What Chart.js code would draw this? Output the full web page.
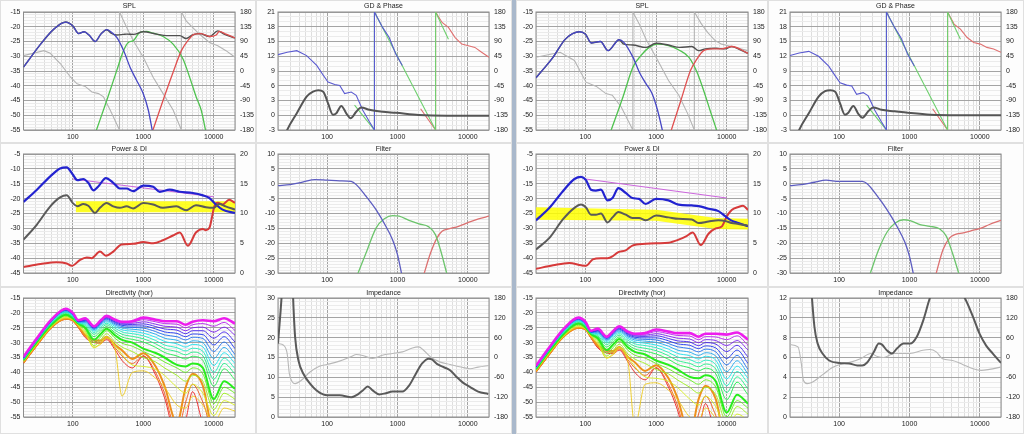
<!DOCTYPE html>
<html>
<head>
<meta charset="utf-8">
<script src="https://cdn.jsdelivr.net/npm/chart.js@4.4.1/dist/chart.umd.min.js"></script>
<style>
html, body { margin: 0; padding: 0; width: 1024px; height: 434px; overflow: hidden; background: #f2f2f2; }
.sep { position: absolute; left: 512px; top: 0; width: 4px; height: 434px; background: #a9b8cb; }
</style>
</head>
<body>
<div class="sep"></div>
<script>
// ---------- data ----------
// SPL, left set
const splL_wooF = [20,35,54,79,100,121,145,170,208,250,304,350,421,524,649,806,1000,1180,1350];
const splL_wooV = [-33.7,-25.9,-20.8,-18.4,-19.7,-22.3,-21.7,-22.8,-25.0,-22.5,-21.0,-21.8,-23.6,-28.0,-33.7,-38.2,-42.7,-48.3,-55.5];
const splL_sumF = [20,35,54,79,100,121,145,170,208,250,304,350,421,524,582,724,1000,1540,2130,3300,4060,5000,6300,8700,11400,14000,20000];
const splL_sumV = [-33.7,-25.9,-20.8,-18.4,-19.7,-22.3,-21.7,-22.8,-25.0,-22.5,-21.0,-22.2,-22.8,-22.6,-22.5,-22.6,-21.7,-22.5,-23.0,-23.0,-24.0,-22.8,-22.3,-23.3,-21.4,-22.5,-23.8];
const splL_midF = [213,304,421,524,614,724,893,1110,1380,1910,2650,3660,4530,5630,6640,7710];
const splL_midV = [-55.5,-44.9,-34.8,-28.1,-25.3,-24.7,-21.9,-21.6,-22.2,-23.3,-25.9,-30.9,-37.0,-43.8,-48.3,-55.5];
const splL_twF = [1350,1910,2650,3470,4290,5330,6640,8700,10800,12000,14900,20000];
const splL_twV = [-55.5,-44.9,-35.4,-28.1,-24.7,-22.5,-22.3,-23.3,-22.8,-21.6,-22.5,-23.8];
const splL_phF = [20,39,48,67,93,115,150,187,232,273,339,460,460,582,724,1000,1380,1910,2650,3470,3470,4060,5000,6300,8700,11400,14900,20000];
const splL_phV = [47,62,54,22,-19,-39,-47,-64,-69,-79,-119,-180,180,133,92,42,-19,-69,-119,-180,180,153,133,112,87,77,62,42];

// SPL, right set
const splR_wooF = [20,35,52,83,100,121,163,210,300,350,470,580,720,880,1050,1240];
const splR_wooV = [-37.3,-30.3,-24.2,-21.7,-22.5,-25.5,-25.0,-28.1,-24.4,-25.3,-30.3,-35.4,-39.3,-42.7,-48.3,-55.5];
const splR_sumF = [20,35,52,83,100,121,163,210,300,350,470,720,1000,1500,2150,3200,4000,5000,7000,9500,11800,14500,20000];
const splR_sumV = [-37.3,-30.3,-24.2,-21.7,-22.5,-25.5,-25.0,-28.1,-24.4,-25.9,-26.2,-27.0,-25.6,-26.2,-27.0,-26.7,-28.1,-27.5,-27.3,-27.5,-26.7,-27.5,-29.0];
const splR_midF = [228,340,470,610,800,1050,1500,2100,2900,3800,4700,5900,7300];
const splR_midV = [-55.5,-43.8,-33.7,-29.8,-27.0,-25.9,-26.4,-27.9,-30.3,-35.4,-41.5,-48.8,-55.5];
const splR_twF = [1620,2250,3070,3800,4700,6100,8500,11800,20000];
const splR_twV = [-55.5,-44.9,-34.8,-30.9,-28.1,-27.5,-27.5,-26.7,-29.0];
const splR_phF = [20,44,70,102,143,195,240,320,470,470,580,720,1000,1500,2100,2800,3480,3480,4400,5400,6900,8500,10500,20000];
const splR_phV = [42,57,32,-34,-47,-69,-74,-109,-180,180,143,97,42,-29,-74,-130,-180,180,143,117,92,82,77,62];

// GD & Phase (both sets)
const gd_F = [20,27,37,51,63,75,88,103,121,135,159,187,215,259,305,399,614,946,2000,5000,20000];
const gdL_V = [-8,-3,0.4,3.8,4.8,5.1,4.8,2.4,0.1,0.4,1.9,0.4,-0.6,0.7,1.6,1.1,0.7,0.5,0.06,-0.1,-0.1];
const gdR_V = [-8,-3,0.4,3.8,4.9,5.1,4.8,2.4,0.1,0.5,1.9,0.3,-0.5,0.8,1.6,1.1,0.8,0.5,0.1,0.0,0.0];
const phWoo_F = [20,27,37,51,71,88,103,128,151,177,220,259,321,399,470,470,614,762,946,1170];
const phWooL_V = [50,57,62,47,17,-13,-34,-41,-44,-69,-64,-74,-120,-155,-180,180,133,102,52,17];
const phWooR_V = [47,55,60,45,15,-15,-36,-43,-46,-71,-66,-76,-120,-155,-180,180,133,100,50,15];
const phMid_F = [245,470,470,3480,3480,5300];
const phMid_V = [-104,-180,180,-180,180,97];
const phTw_F = [2130,3480,3480,4300,5300,6600,8200,10200,12600,15700,20000];
const phTwL_V = [-115,-180,180,148,133,102,82,77,72,57,42];
const phTwR_V = [-115,-180,180,143,128,102,87,82,72,67,57];

// Power & DI, left set
const pdiL_F = [20,31,48,66,82,100,116,141,166,196,230,295,375,466,578,719,1000,1383,1713,2373,3288,5050,7010,8680,10760,13330,20000];
const pdiL_onV = [-21.1,-17.0,-12.5,-9.9,-9.5,-11.9,-13.8,-13.4,-14.7,-17.2,-15.9,-13.1,-14.7,-16.6,-16.6,-17.5,-15.6,-16.0,-17.7,-17.0,-17.7,-18.1,-18.9,-19.8,-22.0,-23.7,-24.8];
const pdiL_pwF = [20,31,48,66,82,100,116,141,166,207,243,302,375,466,578,719,1000,1383,1900,2950,4050,5580,7730,10000,11900,14700,20000];
const pdiL_pwV = [-33.8,-28.7,-22.6,-19.6,-18.9,-21.5,-22.6,-21.8,-22.4,-24.8,-23.1,-21.5,-22.6,-23.1,-22.6,-23.3,-21.5,-22.0,-23.1,-22.6,-23.9,-22.2,-22.9,-23.1,-21.8,-22.6,-23.7];
const pdiL_diF = [20,35,59,82,97,127,158,185,243,295,375,492,719,1000,1383,1900,2640,3290,4300,5580,7010,7730,8680,10200,11400,13330,16500,20000];
const pdiL_diV = [1.0,1.5,1.8,1.6,1.2,2.2,2.6,2.5,3.6,2.9,3.6,4.8,4.9,5.2,5.0,5.5,6.3,6.8,4.6,6.8,7.4,7.2,7.6,11.2,11.8,11.5,12.3,11.8];
const pdiL_trF = [100,10000];
const pdiL_trV = [-13.4,-19.4];
const pdiL_hlF = [110,20000];
const pdiL_hlLo = [-24.6,-24.6];
const pdiL_hlHi = [-20.9,-20.9];

// Power & DI, right set
const pdiR_F = [20,31,48,70,87,102,120,141,166,206,242,293,372,462,574,713,1000,1500,2080,3200,4000,5520,7650,9500,11750,14600,20000];
const pdiR_onV = [-27.3,-23.1,-17.5,-13.4,-12.7,-13.8,-17.0,-17.3,-17.0,-20.6,-19.8,-16.5,-18.1,-19.8,-20.1,-21.8,-20.1,-20.6,-22.0,-22.3,-22.5,-23.4,-24.2,-25.9,-27.4,-28.2,-29.3];
const pdiR_pwV = [-37.1,-33.2,-27.0,-23.1,-22.0,-23.0,-25.4,-25.4,-25.0,-28.0,-26.3,-24.5,-25.4,-26.5,-26.5,-27.3,-25.7,-26.3,-26.8,-27.0,-28.2,-27.7,-27.3,-27.5,-28.2,-28.5,-29.1];
const pdiR_diF = [20,35,59,87,102,127,166,206,242,293,372,462,713,1000,1500,2080,2700,3300,4300,5520,7000,8500,10000,11750,14600,17000,20000];
const pdiR_diV = [0.7,1.3,1.7,1.3,1.2,2.3,2.5,2.5,2.8,3.5,3.8,4.6,4.9,5.0,5.1,5.6,6.2,6.8,4.7,6.6,7.5,7.8,9.5,10.6,11.1,11.3,10.6];
const pdiR_trF = [100,10000];
const pdiR_trV = [-13.4,-19.8];
const pdiR_hlF = [20,1000,7000,20000];
const pdiR_hlLo = [-27.1,-27.4,-30.2,-30.4];
const pdiR_hlHi = [-22.9,-23.7,-26.5,-26.8];

// Filter
const fltL_wooF = [20,29.8,45.9,67,100,151,220,259,357,495,683,850,1000,1150];
const fltL_wooV = [-0.6,-0.3,0.6,1.4,1.2,1.0,0.8,-0.3,-4.2,-8.7,-14.3,-18.8,-23.8,-30.5];
const fltL_midF = [270,357,495,650,850,1055,1460,2020,2790,3460,4070,5060];
const fltL_midV = [-30.5,-23.3,-14.9,-11.8,-10.7,-10.9,-12.3,-13.5,-14.5,-17.1,-22.1,-30.5];
const fltL_twF = [2370,2950,3650,4300,5330,7370,10200,14200,20000];
const fltL_twV = [-30.5,-23.3,-18.2,-16.0,-15.2,-14.3,-13.0,-11.8,-10.9];
const fltR_wooF = [20,28.8,44.5,65,100,146,213,250,345,478,662,869,1000,1140];
const fltR_wooV = [-0.6,-0.3,0.5,1.2,0.8,0.8,0.8,0.0,-4.0,-8.7,-14.3,-19.9,-24.4,-30.5];
const fltR_midF = [273,365,478,628,824,1020,1410,1950,2700,3350,4080,5080];
const fltR_midV = [-30.5,-22.1,-16.3,-13.2,-12.1,-12.4,-13.7,-14.3,-15.2,-17.7,-23.3,-30.5];
const fltR_twF = [2370,3000,3730,4410,5830,8090,10400,13700,20000];
const fltR_twV = [-30.5,-22.1,-18.2,-17.1,-16.5,-15.6,-14.9,-13.7,-12.3];

// Directivity (hor): one row per angle, 0..180 deg in 10 deg steps
const dir_F = [20,30,50,80,100,120,150,200,250,300,400,500,700,1000,1500,2000,3000,4000,5000,7000,10000,14000,20000];
const dirL = [
  [-34.8,-29.0,-22.2,-18.6,-20.0,-22.5,-21.8,-24.5,-22.5,-21.0,-22.3,-23.0,-22.8,-21.6,-22.3,-22.8,-22.8,-24.0,-23.0,-22.5,-22.8,-21.8,-23.6],
  [-34.9,-29.1,-22.3,-18.7,-20.1,-22.6,-22.0,-24.6,-22.6,-21.2,-22.5,-23.2,-23.1,-22.3,-23.0,-23.6,-23.8,-25.0,-24.0,-23.6,-24.5,-23.2,-25.9],
  [-35.0,-29.2,-22.4,-18.8,-20.2,-22.7,-22.2,-24.7,-22.8,-21.4,-22.7,-23.5,-23.5,-23.0,-23.8,-24.5,-24.8,-26.0,-25.0,-24.8,-26.5,-24.8,-27.5],
  [-35.1,-29.3,-22.5,-18.9,-20.3,-22.8,-22.4,-24.9,-23.0,-21.6,-23.0,-23.8,-23.9,-23.7,-24.6,-25.4,-25.8,-27.0,-26.0,-26.0,-28.5,-26.4,-29.8],
  [-35.2,-29.4,-22.6,-19.0,-20.4,-22.9,-22.6,-25.1,-23.2,-21.9,-23.3,-24.2,-24.4,-24.4,-25.4,-26.4,-26.9,-28.0,-27.1,-27.3,-30.8,-28.0,-32.0],
  [-35.3,-29.5,-22.7,-19.2,-20.6,-23.0,-22.9,-25.4,-23.5,-22.2,-23.7,-24.6,-24.9,-25.1,-26.3,-27.4,-28.0,-29.1,-28.2,-28.6,-33.0,-29.8,-34.0],
  [-35.4,-29.6,-22.9,-19.4,-20.8,-23.1,-23.2,-25.7,-23.8,-22.6,-24.1,-25.1,-25.5,-25.9,-27.2,-28.5,-29.2,-30.3,-29.4,-30.0,-35.3,-31.6,-35.5],
  [-35.5,-29.7,-23.1,-19.6,-21.0,-23.2,-23.5,-26.1,-24.2,-23.0,-24.6,-25.7,-26.2,-26.8,-28.2,-29.6,-30.4,-31.5,-30.6,-31.4,-37.7,-33.4,-37.0],
  [-35.6,-29.8,-23.3,-19.8,-21.2,-23.3,-23.8,-26.6,-24.7,-23.5,-25.2,-26.4,-27.0,-27.7,-29.3,-30.8,-31.7,-32.8,-31.9,-32.9,-40.0,-35.2,-38.7],
  [-35.7,-29.9,-23.5,-20.0,-21.4,-23.4,-24.2,-27.2,-25.3,-24.0,-25.9,-27.2,-27.9,-28.7,-30.4,-32.0,-33.0,-34.1,-33.2,-34.4,-42.3,-37.0,-40.5],
  [-35.8,-30.0,-23.7,-20.3,-21.6,-23.5,-24.6,-28.0,-26.0,-24.6,-26.7,-28.1,-28.9,-29.8,-31.6,-33.3,-34.5,-35.5,-34.6,-36.0,-44.7,-38.8,-42.5],
  [-35.9,-30.2,-23.9,-20.6,-21.8,-23.6,-25.0,-29.0,-27.0,-25.3,-27.6,-29.1,-30.0,-32.0,-33.5,-35.0,-37.5,-38.0,-37.0,-38.5,-49.0,-43.0,-45.5],
  [-36.0,-30.4,-24.1,-20.9,-22.0,-23.8,-25.5,-30.0,-28.0,-26.0,-28.6,-30.2,-31.2,-33.0,-34.8,-36.5,-38.5,-40.0,-38.5,-40.5,-50.5,-45.0,-47.0],
  [-36.1,-30.6,-24.3,-21.2,-22.2,-24.0,-26.0,-31.0,-29.0,-27.0,-29.8,-31.5,-33.0,-35.0,-36.5,-38.5,-41.0,-43.0,-41.0,-43.0,-52.5,-47.0,-49.0],
  [-36.3,-30.8,-24.5,-21.5,-22.3,-24.2,-26.5,-31.8,-30.0,-28.0,-31.0,-34.0,-37.5,-38.0,-39.0,-41.0,-45.0,-47.0,-44.0,-47.0,-54.5,-49.5,-51.0],
  [-36.5,-31.0,-24.7,-21.8,-22.4,-24.4,-27.0,-31.5,-30.5,-28.5,-32.5,-48.0,-40.0,-39.5,-42.0,-45.0,-51.0,-52.0,-48.0,-51.0,-57.0,-52.0,-53.0],
  [-36.7,-31.2,-24.8,-22.0,-22.5,-24.6,-27.5,-29.0,-29.3,-28.0,-30.8,-32.6,-35.5,-33.6,-38.0,-44.5,-57.0,-45.0,-40.5,-44.5,-60.0,-57.0,-56.0],
  [-36.9,-31.4,-24.9,-22.1,-22.6,-24.8,-28.0,-29.5,-29.8,-28.6,-31.8,-34.5,-37.0,-34.5,-40.0,-47.0,-60.0,-50.0,-44.0,-50.0,-60.0,-57.0,-57.0],
  [-37.0,-31.5,-25.0,-22.2,-22.7,-25.0,-28.3,-30.0,-30.2,-29.0,-32.5,-36.0,-38.5,-34.5,-41.0,-48.5,-62.0,-56.0,-46.5,-57.0,-62.0,-58.0,-58.0]
];
const dirR = [
  [-37.8,-32.0,-25.2,-21.6,-23.0,-26.0,-25.3,-28.0,-26.0,-24.5,-26.3,-27.0,-26.8,-25.6,-26.3,-26.8,-26.8,-28.0,-27.0,-27.0,-27.3,-26.6,-29.0],
  [-37.9,-32.1,-25.3,-21.7,-23.1,-26.1,-25.5,-28.1,-26.1,-24.7,-26.5,-27.2,-27.1,-26.3,-27.0,-27.6,-27.8,-29.0,-28.0,-28.1,-29.0,-27.7,-30.9],
  [-38.0,-32.2,-25.4,-21.8,-23.2,-26.2,-25.7,-28.2,-26.3,-24.9,-26.7,-27.5,-27.5,-27.0,-27.8,-28.5,-28.8,-30.0,-29.0,-29.3,-31.0,-29.3,-32.5],
  [-38.1,-32.3,-25.5,-21.9,-23.3,-26.3,-25.9,-28.4,-26.5,-25.1,-27.0,-27.8,-27.9,-27.7,-28.6,-29.4,-29.8,-31.0,-30.0,-30.5,-33.0,-30.9,-34.8],
  [-38.2,-32.4,-25.6,-22.0,-23.4,-26.4,-26.1,-28.6,-26.7,-25.4,-27.3,-28.2,-28.4,-28.4,-29.4,-30.4,-30.9,-32.0,-31.1,-31.8,-35.3,-32.5,-37.0],
  [-38.3,-32.5,-25.7,-22.2,-23.6,-26.5,-26.4,-28.9,-27.0,-25.7,-27.7,-28.6,-28.9,-29.1,-30.3,-31.4,-32.0,-33.1,-32.2,-33.1,-37.5,-34.3,-39.0],
  [-38.4,-32.6,-25.9,-22.4,-23.8,-26.6,-26.7,-29.2,-27.3,-26.1,-28.1,-29.1,-29.5,-29.9,-31.2,-32.5,-33.2,-34.3,-33.4,-34.5,-39.8,-36.1,-40.5],
  [-38.5,-32.7,-26.1,-22.6,-24.0,-26.7,-27.0,-29.6,-27.7,-26.5,-28.6,-29.7,-30.2,-30.8,-32.2,-33.6,-34.4,-35.5,-34.6,-35.9,-42.2,-37.9,-42.0],
  [-38.6,-32.8,-26.3,-22.8,-24.2,-26.8,-27.3,-30.1,-28.2,-27.0,-29.2,-30.4,-31.0,-31.7,-33.3,-34.8,-35.7,-36.8,-35.9,-37.4,-44.5,-39.7,-43.7],
  [-38.7,-32.9,-26.5,-23.0,-24.4,-26.9,-27.7,-30.7,-28.8,-27.5,-29.9,-31.2,-31.9,-32.7,-34.4,-36.0,-37.0,-38.1,-37.2,-38.9,-46.8,-41.5,-45.5],
  [-38.8,-33.0,-26.7,-23.3,-24.6,-27.0,-28.1,-31.5,-29.5,-28.1,-30.7,-32.1,-32.9,-33.8,-35.6,-37.3,-38.5,-39.5,-38.6,-40.5,-49.2,-43.3,-47.5],
  [-38.9,-33.2,-26.9,-23.6,-24.8,-27.1,-28.5,-32.5,-30.5,-28.8,-31.6,-33.1,-34.0,-36.0,-37.5,-39.0,-41.5,-42.0,-41.0,-43.0,-53.5,-47.5,-50.5],
  [-39.0,-33.4,-27.1,-23.9,-25.0,-27.3,-29.0,-33.5,-31.5,-29.5,-32.6,-34.2,-35.2,-37.0,-38.8,-40.5,-42.5,-44.0,-42.5,-45.0,-55.0,-49.5,-52.0],
  [-39.1,-33.6,-27.3,-24.2,-25.2,-27.5,-29.5,-34.5,-32.5,-30.5,-33.8,-35.5,-37.0,-39.0,-40.5,-42.5,-45.0,-47.0,-45.0,-47.5,-57.0,-51.5,-54.0],
  [-39.3,-33.8,-27.5,-24.5,-25.3,-27.7,-30.0,-35.3,-33.5,-31.5,-35.0,-38.0,-41.5,-42.0,-43.0,-45.0,-49.0,-51.0,-48.0,-51.5,-59.0,-54.0,-56.0],
  [-39.5,-34.0,-27.7,-24.8,-25.4,-27.9,-30.5,-35.0,-34.0,-32.0,-36.5,-58.0,-44.0,-43.5,-46.0,-49.0,-55.0,-56.0,-52.0,-55.5,-61.5,-56.5,-58.0],
  [-39.7,-34.2,-27.8,-25.0,-25.5,-28.1,-31.0,-32.5,-32.8,-31.5,-34.8,-36.6,-39.5,-37.6,-42.0,-48.5,-61.0,-49.0,-44.5,-49.0,-64.5,-61.5,-61.0],
  [-39.9,-34.4,-27.9,-25.1,-25.6,-28.3,-31.5,-33.0,-33.3,-32.1,-35.8,-38.5,-41.0,-38.5,-44.0,-51.0,-64.0,-54.0,-48.0,-54.5,-64.5,-61.5,-62.0],
  [-40.0,-34.5,-28.0,-25.2,-25.7,-28.5,-31.8,-33.5,-33.7,-32.5,-36.5,-40.0,-42.5,-38.5,-45.0,-52.5,-66.0,-60.0,-50.5,-61.5,-66.5,-62.5,-63.0]
];

// Impedance
const impL_magF = [20,22.8,27,32.5,33.2,35,39,45.9,57,70.8,87.8,100,151,220,273,321,378,443,551,683,850,1176,1460,1810,2240,2780,3090,3630,4500,5590,6930,8600,10680,14000,19500];
const impL_magV = [18.5,32,60,32,27.7,20.2,14.3,10.9,8.4,6.7,5.7,5.5,5.5,5.0,5.7,6.7,7.7,6.7,5.7,6.0,6.4,6.4,7.9,10.8,13.5,14.7,14.5,13.4,12.6,11.8,10.1,8.6,7.6,6.4,5.8];
const impL_phF = [20,24,27,29,32,35,43,57,79,100,150,220,260,321,443,610,850,1176,1630,2000,2350,2950,4050,5600,8000,10800,14000,20000];
const impL_phV = [42,37,12,-49,-74,-79,-69,-44,-26,-21,-11,3,9,6,-3,7,12,17,29,32,22,2,-14,-21,-29,-34,-29,-24];
const impR_magF = [20,22.8,27,32.5,35,39,44.5,49.5,58,72,100,138,181,213,250,311,366,407,479,563,662,822,1020,1270,1570,1950,2400,2900,3600,4500,5500,6100,8000,9900,12300,15300,20000];
const impR_magV = [18.5,32,60,32,20.2,14.3,9.1,7.4,6.4,5.7,5.45,5.4,5.2,5.2,5.5,6.55,7.4,7.3,6.7,6.4,6.9,7.4,7.4,8.1,9.75,12.0,13.5,14.5,13.6,12.9,12.4,12.0,10.1,8.4,7.2,6.4,5.45];
const impR_phF = [20,26,29,31,35,42,59,79,100,146,200,283,350,430,600,1020,1550,1950,2400,2950,4100,5700,8000,10500,13700,20000];
const impR_phV = [39,32,-19,-69,-79,-74,-51,-31,-22,-14,-4,12,3,0,12,12,22,24,17,-4,-9,-21,-34,-39,-36,-29];

// ---------- axes ----------
const XT = [20,30,40,50,60,70,80,90,100,200,300,400,500,600,700,800,900,1000,2000,3000,4000,5000,6000,7000,8000,9000,10000,20000];
const XL = [100,1000,10000];
const FONT = '"Liberation Sans", Arial, sans-serif';

// panel geometry
const COLS = [{x:0,w:256,l:23.5,r:21},{x:256,w:256,l:22,r:23},{x:516,w:252,l:20,r:20},{x:768,w:256,l:22,r:23}];
const ROWS = [{y:0,h:143,t:12,b:13},{y:143,h:144,t:11,b:14},{y:287,h:147,t:11,b:17}];

function pts(f, v) { return f.map((x, i) => ({x: x, y: v[i]})); }

// smooth = monotone curve; sharp = straight segments (used where a phase trace wraps)
function line(f, v, color, width, axis, sharp) {
  const d = {
    data: pts(f, v), borderColor: color, borderWidth: width, pointRadius: 0,
    yAxisID: axis || 'y', fill: false
  };
  if (sharp) d.tension = 0;
  else d.cubicInterpolationMode = 'monotone';
  return d;
}

function band(f, lo, hi) {
  return [
    { data: pts(f, lo), borderWidth: 0, borderColor: 'rgba(0,0,0,0)', pointRadius: 0, fill: false, yAxisID: 'y' },
    { data: pts(f, hi), borderWidth: 0, borderColor: 'rgba(0,0,0,0)', pointRadius: 0, fill: '-1',
      backgroundColor: 'rgba(255,255,0,0.85)', yAxisID: 'y' }
  ];
}

function xScale(h) {
  return {
    type: 'logarithmic', min: 20, max: 20000,
    afterBuildTicks: s => { s.ticks = XT.map(v => ({value: v})); },
    afterFit: s => { s.height = h; },
    ticks: { autoSkip: false, maxRotation: 0, minRotation: 0, padding: 3, color: '#222',
      font: {family: FONT, size: 7}, callback: v => XL.includes(v) ? String(v) : '' },
    grid: { drawTicks: false, color: c => (c.tick && XL.includes(c.tick.value)) ? '#a4a4a4' : '#dedede' },
    border: { display: false }
  };
}

function yScale(pos, s, w, grid) {
  const sub = s.sub || 1;
  return {
    position: pos, min: s.min, max: s.max,
    afterBuildTicks: sc => {
      const t = [];
      const n = Math.round((s.max - s.min) / s.step * sub);
      for (let i = 0; i <= n; i++) t.push({value: +(s.min + i * s.step / sub).toFixed(4)});
      sc.ticks = t;
    },
    afterFit: sc => { sc.width = w; },
    ticks: { autoSkip: false, padding: pos === 'left' ? 3 : 5, color: '#222',
      font: {family: FONT, size: 7}, callback: (v, i) => i % sub === 0 ? String(v) : '' },
    grid: { display: grid, drawTicks: false, color: c => c.index % sub === 0 ? '#a4a4a4' : '#ebebeb' },
    border: { display: false }
  };
}

function frame(title) {
  return {
    id: 'frame',
    beforeDraw(ch) {
      const g = ch.ctx;
      g.save();
      g.fillStyle = '#fdfdfd';
      g.fillRect(0, 0, ch.width, ch.height);
      g.strokeStyle = '#e0e0e0';
      g.strokeRect(0.5, 0.5, ch.width - 1, ch.height - 1);
      g.restore();
    },
    beforeDatasetsDraw(ch) {
      const a = ch.chartArea, g = ch.ctx;
      g.save();
      g.strokeStyle = '#8c8c8c';
      g.lineWidth = 1;
      g.strokeRect(a.left, a.top, a.right - a.left, a.bottom - a.top);
      g.restore();
    },
    afterDraw(ch) {
      const a = ch.chartArea, g = ch.ctx;
      g.save();
      g.fillStyle = '#222';
      g.font = '7px ' + FONT;
      g.textAlign = 'center';
      g.textBaseline = 'middle';
      g.fillText(title, (a.left + a.right) / 2, 6);
      g.restore();
    }
  };
}

function panel(c, r, title, datasets, left, right) {
  const C = COLS[c], R = ROWS[r];
  const cv = document.createElement('canvas');
  cv.width = C.w;
  cv.height = R.h;
  cv.style.cssText = 'position:absolute;left:' + C.x + 'px;top:' + R.y + 'px;width:' + C.w + 'px;height:' + R.h + 'px';
  document.body.appendChild(cv);
  const scales = { x: xScale(R.b), y: yScale('left', left, C.l, true) };
  if (right) scales.y2 = yScale('right', right, C.r, false);
  new Chart(cv, {
    type: 'line',
    data: { datasets: datasets },
    options: {
      responsive: false, animation: false, events: [],
      layout: { padding: { top: R.t, right: right ? 0 : C.r } },
      plugins: { legend: {display: false}, tooltip: {enabled: false}, title: {display: false} },
      scales: scales
    },
    plugins: [frame(title)]
  });
}

const SPL_Y = {min: -55, max: -15, step: 5, sub: 5};
const PH_Y = {min: -180, max: 180, step: 45};

function dirSets(rows) {
  return rows.map((v, i) => line(dir_F, v, 'hsl(' + (300 - i * 300 / 18) + ',85%,52%)',
    i === 0 ? 2.6 : (i === 11 || i === 16) ? 2 : 0.9, 'y'));
}

// ---------- left set ----------
panel(0, 0, 'SPL', [
  line(splL_wooF, splL_wooV, '#4646c4', 1.3),
  line(splL_twF, splL_twV, '#e05050', 1.3),
  line(splL_sumF, splL_sumV, '#505050', 1.4),
  line(splL_midF, splL_midV, '#4fc24f', 1.3),
  line(splL_phF, splL_phV, '#b4b4b4', 1.1, 'y2', true)
], SPL_Y, PH_Y);

panel(1, 0, 'GD & Phase', [
  line(gd_F, gdL_V, '#555555', 2),
  line(phWoo_F, phWooL_V, '#5a5ad0', 1.1, 'y2', true),
  line(phMid_F, phMid_V, '#6fd06f', 1.1, 'y2', true),
  line(phTw_F, phTwL_V, '#e07070', 1.1, 'y2', true)
], {min: -3, max: 21, step: 3, sub: 3}, PH_Y);

panel(0, 1, 'Power & DI', [
  line(pdiL_pwF, pdiL_pwV, '#5a5a5a', 2),
  line(pdiL_F, pdiL_onV, '#2323d0', 2.2),
  line(pdiL_diF, pdiL_diV, '#d63a3a', 2, 'y2'),
  line(pdiL_trF, pdiL_trV, '#cc66dd', 1, 'y', true)
].concat(band(pdiL_hlF, pdiL_hlLo, pdiL_hlHi)), {min: -45, max: -5, step: 5, sub: 5}, {min: 0, max: 20, step: 5});

panel(1, 1, 'Filter', [
  line(fltL_wooF, fltL_wooV, '#5c5cc0', 1.3),
  line(fltL_midF, fltL_midV, '#6cc46c', 1.3),
  line(fltL_twF, fltL_twV, '#dc7070', 1.3)
], {min: -30, max: 10, step: 5, sub: 5}, null);

panel(0, 2, 'Directivity (hor)', dirSets(dirL), SPL_Y, null);

panel(1, 2, 'Impedance', [
  line(impL_magF, impL_magV, '#5a5a5a', 2),
  line(impL_phF, impL_phV, '#b8b8b8', 1.1, 'y2')
], {min: 0, max: 30, step: 5, sub: 5}, {min: -180, max: 180, step: 60});

// ---------- right set ----------
panel(2, 0, 'SPL', [
  line(splR_wooF, splR_wooV, '#4646c4', 1.3),
  line(splR_twF, splR_twV, '#e05050', 1.3),
  line(splR_sumF, splR_sumV, '#505050', 1.4),
  line(splR_midF, splR_midV, '#4fc24f', 1.3),
  line(splR_phF, splR_phV, '#b4b4b4', 1.1, 'y2', true)
], SPL_Y, PH_Y);

panel(3, 0, 'GD & Phase', [
  line(gd_F, gdR_V, '#555555', 2),
  line(phWoo_F, phWooR_V, '#5a5ad0', 1.1, 'y2', true),
  line(phMid_F, phMid_V, '#6fd06f', 1.1, 'y2', true),
  line(phTw_F, phTwR_V, '#e07070', 1.1, 'y2', true)
], {min: -3, max: 21, step: 3, sub: 3}, PH_Y);

panel(2, 1, 'Power & DI', [
  line(pdiR_F, pdiR_pwV, '#5a5a5a', 2),
  line(pdiR_F, pdiR_onV, '#2323d0', 2.2),
  line(pdiR_diF, pdiR_diV, '#d63a3a', 2, 'y2'),
  line(pdiR_trF, pdiR_trV, '#cc66dd', 1, 'y', true)
].concat(band(pdiR_hlF, pdiR_hlLo, pdiR_hlHi)), {min: -45, max: -5, step: 5, sub: 5}, {min: 0, max: 20, step: 5});

panel(3, 1, 'Filter', [
  line(fltR_wooF, fltR_wooV, '#5c5cc0', 1.3),
  line(fltR_midF, fltR_midV, '#6cc46c', 1.3),
  line(fltR_twF, fltR_twV, '#dc7070', 1.3)
], {min: -30, max: 10, step: 5, sub: 5}, null);

panel(2, 2, 'Directivity (hor)', dirSets(dirR), SPL_Y, null);

panel(3, 2, 'Impedance', [
  line(impR_magF, impR_magV, '#5a5a5a', 2),
  line(impR_phF, impR_phV, '#b8b8b8', 1.1, 'y2')
], {min: 0, max: 12, step: 2, sub: 4}, {min: -180, max: 180, step: 60});
</script>
</body>
</html>
